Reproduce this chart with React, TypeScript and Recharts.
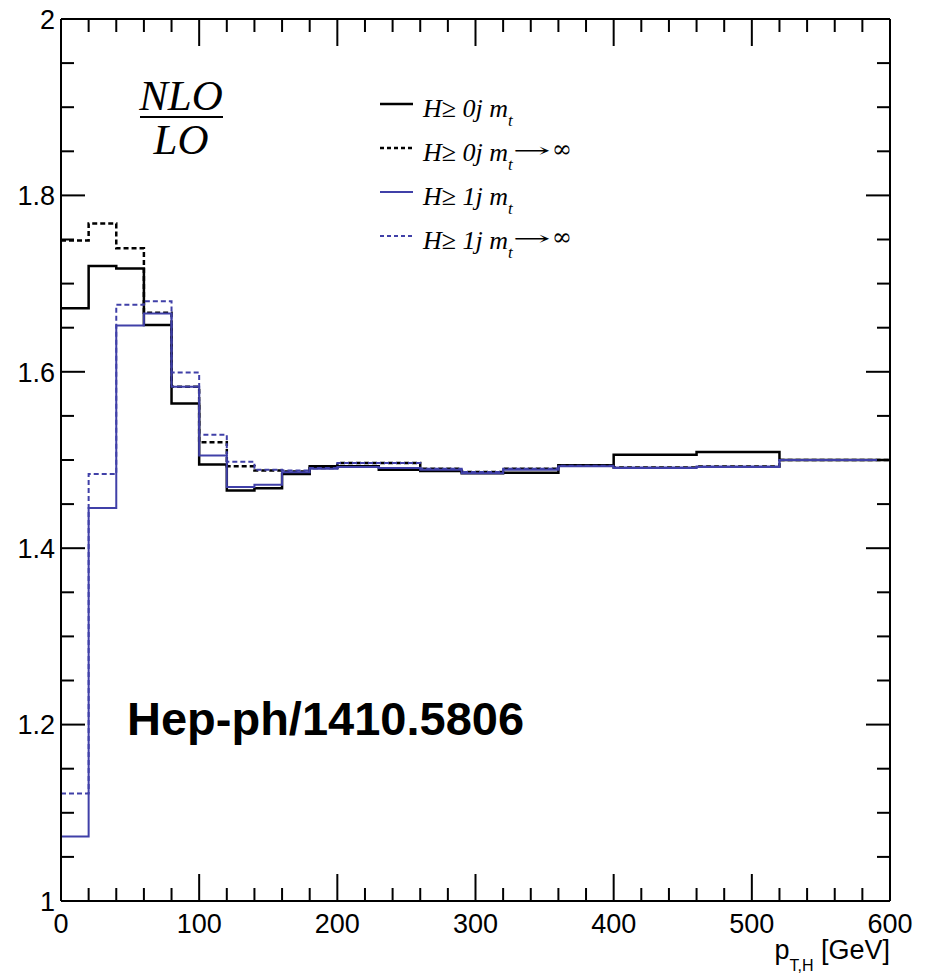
import React from 'react';
import { LineChart, Line, XAxis, YAxis, Legend } from 'recharts';

// Histogram bin edges in p_T,H [GeV]
const binEdges = [0, 20, 40, 60, 80, 100, 120, 140, 160, 180, 200, 230, 260, 290, 320, 360, 400, 460, 520, 600];

// NLO/LO ratio per bin
const ratioH0jMt = [1.672, 1.72, 1.717, 1.653, 1.564, 1.495, 1.4655, 1.468, 1.484, 1.493, 1.493, 1.489, 1.4875, 1.485, 1.4856, 1.494, 1.506, 1.509, 1.5];
const ratioH0jInf = [1.749, 1.768, 1.74, 1.667, 1.583, 1.52, 1.493, 1.488, 1.487, 1.491, 1.4965, 1.4965, 1.49, 1.4863, 1.49, 1.4935, 1.4916, 1.4927, 1.5];
const ratioH1jMt = [1.073, 1.4456, 1.6526, 1.666, 1.583, 1.505, 1.4693, 1.472, 1.486, 1.49, 1.492, 1.491, 1.489, 1.485, 1.489, 1.493, 1.491, 1.492, 1.5];
const ratioH1jInf = [1.122, 1.484, 1.676, 1.68, 1.5993, 1.5287, 1.498, 1.489, 1.488, 1.491, 1.4965, 1.4965, 1.49, 1.4863, 1.49, 1.4935, 1.4916, 1.4927, 1.5];

// Axis ticks
const xTicks = [0, 20, 40, 60, 80, 100, 120, 140, 160, 180, 200, 220, 240, 260, 280, 300, 320, 340, 360, 380, 400, 420, 440, 460, 480, 500, 520, 540, 560, 580, 600];
const yTicks = [1, 1.05, 1.1, 1.15, 1.2, 1.25, 1.3, 1.35, 1.4, 1.45, 1.5, 1.55, 1.6, 1.65, 1.7, 1.75, 1.8, 1.85, 1.9, 1.95, 2];

const BLUE = '#4040a8';
const SANS = '"Liberation Sans", Arial, Helvetica, sans-serif';
const SERIF = '"Liberation Serif", "Times New Roman", serif';

const series = [
  { key: 'h0mt', jets: '0', inf: false, color: '#000', dash: undefined as string | undefined, width: 2.5, values: ratioH0jMt },
  { key: 'h0inf', jets: '0', inf: true, color: '#000', dash: '5 3', width: 2.5, values: ratioH0jInf },
  { key: 'h1mt', jets: '1', inf: false, color: BLUE, dash: undefined as string | undefined, width: 2, values: ratioH1jMt },
  { key: 'h1inf', jets: '1', inf: true, color: BLUE, dash: '5 3', width: 2, values: ratioH1jInf },
];

// one row per bin edge; the last edge repeats the last bin so stepAfter closes the histogram
const data = binEdges.map((x, i) => {
  const row: Record<string, number> = { x };
  series.forEach((s) => {
    row[s.key] = s.values[Math.min(i, s.values.length - 1)];
  });
  return row;
});

const isMajorX = (v: number) => v % 100 === 0;
const isMajorY = (v: number) => Math.abs(v * 5 - Math.round(v * 5)) < 1e-6;

const BottomTick = (props: any) => {
  const { x, y, payload } = props;
  const v = payload.value;
  const major = isMajorX(v);
  return (
    <g>
      <line x1={x} x2={x} y1={y} y2={y - (major ? 27 : 13)} stroke="#000" strokeWidth={2} />
      {major && (
        <text x={x} y={y + 32} textAnchor="middle" fontFamily={SANS} fontSize={27} fill="#000">
          {v}
        </text>
      )}
    </g>
  );
};

const TopTick = (props: any) => {
  const { x, y, payload } = props;
  const major = isMajorX(payload.value);
  return <line x1={x} x2={x} y1={y} y2={y + (major ? 27 : 13)} stroke="#000" strokeWidth={2} />;
};

const LeftTick = (props: any) => {
  const { x, y, payload } = props;
  const v = payload.value;
  const major = isMajorY(v);
  return (
    <g>
      <line x1={x} x2={x + (major ? 24 : 13)} y1={y} y2={y} stroke="#000" strokeWidth={2} />
      {major && (
        <text x={x - 6} y={y} dy="0.36em" textAnchor="end" fontFamily={SANS} fontSize={27} fill="#000">
          {String(Math.round(v * 10) / 10)}
        </text>
      )}
    </g>
  );
};

const RightTick = (props: any) => {
  const { x, y, payload } = props;
  const major = isMajorY(payload.value);
  return <line x1={x} x2={x - (major ? 24 : 13)} y1={y} y2={y} stroke="#000" strokeWidth={2} />;
};

const XTitle = (props: any) => {
  const vb = props.viewBox || {};
  const right = (vb.x || 0) + (vb.width || 0);
  const base = (vb.y || 0) + 58;
  return (
    <text x={right} y={base} textAnchor="end" fontFamily={SANS} fontSize={27} fill="#000">
      p
      <tspan fontSize={16} dy={12}>T,H</tspan>
      <tspan dy={-12}> [GeV]</tspan>
    </text>
  );
};

const ROW_GAP = 44;

const LegendBox = () => (
  <svg width={240} height={200} style={{ display: 'block', overflow: 'visible' }}>
    {series.map((s, i) => {
      const ly = 25 + ROW_GAP * i;
      return (
        <g key={s.key}>
          <line x1={5} x2={38} y1={ly} y2={ly} stroke={s.color} strokeWidth={s.width} strokeDasharray={s.dash ? '4 3' : undefined} />
          <text x={48} y={ly + 13} fontFamily={SERIF} fontStyle="italic" fontSize={26} fill="#000">
            {`H\u2265 ${s.jets}j m`}
            <tspan fontSize={17} dy={9}>t</tspan>
            {s.inf && (
              <>
                <tspan
                  dy={-13}
                  fontStyle="normal"
                  fontFamily={'"DejaVu Serif", serif'}
                  fontSize={20}
                  textLength={38}
                  lengthAdjust="spacingAndGlyphs"
                >
                  {'\u2192'}
                </tspan>
                <tspan dx={1} dy={0} fontStyle="normal" fontFamily={'"DejaVu Serif", serif'} fontSize={24}>
                  {'\u221e'}
                </tspan>
              </>
            )}
          </text>
        </g>
      );
    })}
  </svg>
);

export default function App() {
  return (
    <div style={{ position: 'relative', width: 917, height: 968 }}>
      <LineChart width={917} height={968} data={data} margin={{ top: 10, right: 30, bottom: 0, left: 0 }}>
        <XAxis
          dataKey="x"
          type="number"
          domain={[0, 600]}
          ticks={xTicks}
          interval={0}
          height={75}
          tickSize={0}
          tickMargin={0}
          tickLine={false}
          tick={<BottomTick />}
          axisLine={{ stroke: '#000', strokeWidth: 2 }}
          allowDataOverflow
          label={{ content: (p: any) => <XTitle {...p} /> }}
        />
        <XAxis
          xAxisId="top"
          orientation="top"
          dataKey="x"
          type="number"
          domain={[0, 600]}
          ticks={xTicks}
          interval={0}
          height={1}
          tickSize={0}
          tickMargin={0}
          tickLine={false}
          tick={<TopTick />}
          axisLine={{ stroke: '#000', strokeWidth: 2 }}
          allowDataOverflow
        />
        <YAxis
          type="number"
          domain={[1, 2]}
          ticks={yTicks}
          interval={0}
          width={53}
          tickSize={0}
          tickMargin={0}
          tickLine={false}
          tick={<LeftTick />}
          axisLine={{ stroke: '#000', strokeWidth: 2 }}
          allowDataOverflow
        />
        <YAxis
          yAxisId="right"
          orientation="right"
          type="number"
          domain={[1, 2]}
          ticks={yTicks}
          interval={0}
          width={5}
          tickSize={0}
          tickMargin={0}
          tickLine={false}
          tick={<RightTick />}
          axisLine={{ stroke: '#000', strokeWidth: 2 }}
          allowDataOverflow
        />
        <Legend
          layout="vertical"
          align="center"
          verticalAlign="middle"
          wrapperStyle={{ top: 71, left: 367, width: 240, height: 200 }}
          content={() => <LegendBox />}
        />
        {series.map((s) => (
          <Line
            key={s.key}
            type="stepAfter"
            dataKey={s.key}
            stroke={s.color}
            strokeWidth={s.width}
            strokeDasharray={s.dash}
            dot={false}
            activeDot={false}
            isAnimationActive={false}
            strokeLinecap="butt"
            strokeLinejoin="miter"
          />
        ))}
      </LineChart>
      <svg
        width={917}
        height={968}
        style={{ position: 'absolute', left: 0, top: 0, pointerEvents: 'none' }}
      >
        <text x={173} y={102} textAnchor="middle" fontFamily={SERIF} fontStyle="italic" fontSize={43} fill="#000">
          NLO
        </text>
        <line x1={132} x2={215} y1={109} y2={109} stroke="#000" strokeWidth={2} />
        <text x={173} y={146} textAnchor="middle" fontFamily={SERIF} fontStyle="italic" fontSize={43} fill="#000">
          LO
        </text>
        <text x={119} y={727} fontFamily={SANS} fontWeight="bold" fontSize={47} fill="#000">
          Hep-ph/1410.5806
        </text>
      </svg>
    </div>
  );
}
